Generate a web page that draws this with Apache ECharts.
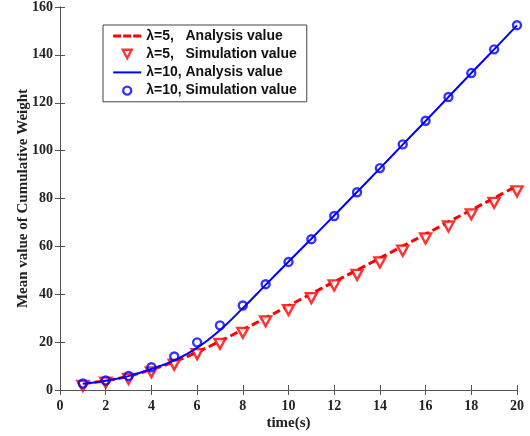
<!DOCTYPE html>
<html>
<head>
<meta charset="utf-8">
<script src="https://cdn.jsdelivr.net/npm/echarts@6/dist/echarts.min.js"></script>
<style>html,body{margin:0;padding:0;background:#fff;}#c{width:530px;height:436px;}</style>
</head>
<body>
<div id="c"></div>
<script>
var times = [1,2,3,4,5,6,7,8,9,10,11,12,13,14,15,16,17,18,19,20];
var analysis5 = [2.6,3.9,5.8,8.6,11.8,15.8,20.4,25.2,30.1,35.2,40.2,45.2,50.1,55.1,60.1,65.1,70.2,75.2,80.2,85.3];
var simulation5 = [1.7,3.1,4.6,7.4,10.6,15.0,19.3,23.9,28.7,33.4,38.4,43.7,48.1,53.3,58.2,63.3,68.3,73.4,78.2,83.0];
var analysis10 = [2.6,3.9,5.8,8.8,12.4,17.6,25.0,34.2,43.9,53.6,63.2,72.9,82.7,92.6,102.5,112.4,122.4,132.4,142.3,152.3];
var simulation10 = [2.7,4.0,5.9,9.5,14.0,19.9,27.0,35.3,44.2,53.5,63.0,72.7,82.6,92.7,102.6,112.5,122.4,132.4,142.3,152.4];
var xTicks = [0,2,4,6,8,10,12,14,16,18,20];
var yTicks = [0,20,40,60,80,100,120,140,160];
var seriesNames = ['λ=5,   Analysis value','λ=5,   Simulation value','λ=10, Analysis value','λ=10, Simulation value'];

function pairs(xs, ys){ return xs.map(function(x,i){ return [x, ys[i]]; }); }

var axisColor = '#555';
var serif = '"Liberation Serif","Times New Roman",serif';
var labelStyle = {fontFamily: serif, fontWeight: 'bold', fontSize: 14, color: '#222'};
var nameStyle = {fontFamily: serif, fontWeight: 'bold', fontSize: 15, color: '#222'};

// legend icons (box 28x14)
var iconDash = 'path://M0,0 M28,14 M0,5.5 H8 V8.5 H0 Z M10,5.5 H18 V8.5 H10 Z M20,5.5 H28 V8.5 H20 Z';
var iconLine = 'path://M0,0 M28,14 M0,6 H28 V8 H0 Z';
var iconTri = 'path://M0,0 M28,14 M9.5,2.5 L18.5,2.5 L14,11 Z';
var iconCirc = 'path://M0,0 M28,14 M18,7 A4,4 0 1 1 10,7 A4,4 0 1 1 18,7 Z';

var chart = echarts.init(document.getElementById('c'), null, {renderer:'canvas'});
chart.setOption({
  animation: false,
  backgroundColor: '#fff',
  grid: {left: 60, right: 13, top: 7, bottom: 43.5, containLabel: false},
  legend: {
    orient: 'vertical', left: 103, top: 25,
    data: [
      {name: seriesNames[0], icon: iconDash, itemStyle: {color: '#ff0000', borderWidth: 0}},
      {name: seriesNames[1], icon: iconTri, itemStyle: {color: '#ffffff', borderColor: '#ff0000', borderWidth: 2.4}},
      {name: seriesNames[2], icon: iconLine, itemStyle: {color: '#0000ff', borderWidth: 0}},
      {name: seriesNames[3], icon: iconCirc, itemStyle: {color: 'rgba(255,255,255,0)', borderColor: '#0000ff', borderWidth: 2.4}}
    ],
    backgroundColor: '#fff', borderColor: '#444', borderWidth: 1,
    padding: [4, 10, 3, 9], itemGap: 3, itemWidth: 28, itemHeight: 14,
    textStyle: {fontFamily: '"Liberation Sans",Arial,sans-serif', fontWeight: 'bold', fontSize: 14, color: '#111'}
  },
  xAxis: [{
    type: 'value', min: xTicks[0], max: xTicks[xTicks.length-1], interval: xTicks[1]-xTicks[0],
    name: 'time(s)', nameLocation: 'middle', nameGap: 26, nameMoveOverlap: false,
    nameTextStyle: nameStyle,
    axisLine: {show: true, lineStyle: {color: axisColor, width: 1}},
    axisTick: {show: true, inside: true, length: 5, lineStyle: {color: axisColor}},
    axisLabel: Object.assign({margin: 9}, labelStyle),
    splitLine: {show: false}
  },{
    type: 'value', position: 'top', min: xTicks[0], max: xTicks[xTicks.length-1], interval: xTicks[1]-xTicks[0],
    axisLine: {show: true, lineStyle: {color: axisColor, width: 1}},
    axisTick: {show: true, inside: true, length: 5, lineStyle: {color: axisColor}},
    axisLabel: {show: false}, splitLine: {show: false}
  }],
  yAxis: [{
    type: 'value', min: yTicks[0], max: yTicks[yTicks.length-1], interval: yTicks[1]-yTicks[0],
    name: 'Mean value of Cumulative Weight', nameLocation: 'middle', nameGap: 29, nameMoveOverlap: false,
    nameTextStyle: nameStyle,
    axisLine: {show: true, lineStyle: {color: axisColor, width: 1}},
    axisTick: {show: true, inside: true, length: 5, lineStyle: {color: axisColor}},
    axisLabel: Object.assign({margin: 7}, labelStyle),
    splitLine: {show: false}
  },{
    type: 'value', position: 'right', min: yTicks[0], max: yTicks[yTicks.length-1], interval: yTicks[1]-yTicks[0],
    axisLine: {show: true, lineStyle: {color: axisColor, width: 1}},
    axisTick: {show: true, inside: true, length: 5, lineStyle: {color: axisColor}},
    axisLabel: {show: false}, splitLine: {show: false}
  }],
  series: [
    {name: seriesNames[0], type: 'line', data: pairs(times, analysis5), smooth: true, symbol: 'none',
     lineStyle: {color: '#ff0000', width: 3, type: [8, 4]}, itemStyle: {color: '#ff0000'}, z: 2},
    {name: seriesNames[1], type: 'scatter', data: pairs(times, simulation5), symbol: 'triangle', symbolRotate: 180, symbolSize: [11, 10],
     itemStyle: {color: '#fff', borderColor: '#ff0000', borderWidth: 2.4}, z: 3},
    {name: seriesNames[2], type: 'line', data: pairs(times, analysis10), smooth: true, symbol: 'none',
     lineStyle: {color: '#0000ff', width: 2}, itemStyle: {color: '#0000ff'}, z: 4},
    {name: seriesNames[3], type: 'scatter', data: pairs(times, simulation10), symbol: 'circle', symbolSize: 8,
     itemStyle: {color: 'rgba(255,255,255,0)', borderColor: '#0000ff', borderWidth: 2.4}, z: 5}
  ]
});
</script>
</body>
</html>
